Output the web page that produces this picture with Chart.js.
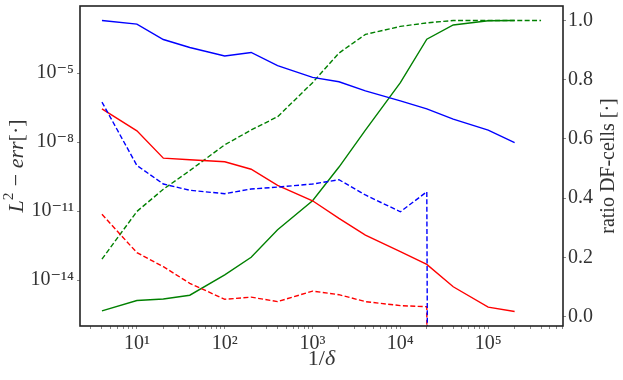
<!DOCTYPE html>
<html>
<head>
<meta charset="utf-8">
<script src="https://cdn.jsdelivr.net/npm/chart.js"></script>
<style>
  html, body { margin: 0; padding: 0; background: #fff; }
  canvas { display: block; }
</style>
</head>
<body>
<canvas id="myChart" width="623" height="380"></canvas>
<script>
const ctx = document.getElementById('myChart');

// 1/delta values (x axis)
const invDelta = [4, 10, 20, 40, 100, 200, 400, 1e3, 2e3, 4e3, 1e4, 2e4, 4e4, 1e5, 2e5, 4e5];

// L2 errors (left axis), 0 = no value (clipped on the log axis)
const errBlue = [1.95e-3, 1.35e-3, 2.9e-4, 1.3e-4, 5.6e-5, 7.9e-5, 2.1e-5, 6.5e-6, 4.2e-6, 1.7e-6, 6.2e-7, 2.8e-7, 1.0e-7, 3.3e-8, 9.5e-9];
const errRed = [2.8e-7, 3.1e-8, 2.0e-9, 1.7e-9, 1.4e-9, 6.6e-10, 1.3e-10, 2.8e-11, 4.8e-12, 9e-13, 1.7e-13, 4.8e-14, 5.1e-15, 6.6e-16, 4.3e-16];
const errBlueDash = [5.5e-7, 9.6e-10, 1.5e-10, 8e-11, 5.7e-11, 9.1e-11, 1.1e-10, 1.5e-10, 2.3e-10, 5e-11, 9.3e-12, 6.9e-11, 0, 0, 0];
const errRedDash = [7.2e-12, 1.55e-13, 3.8e-14, 7.2e-15, 1.45e-15, 1.8e-15, 1.15e-15, 3.3e-15, 2.3e-15, 1.15e-15, 7.7e-16, 6.9e-16, 0, 0, 0];

// ratio of DF cells (right axis)
const ratioSolid = [0.019, 0.054, 0.059, 0.072, 0.141, 0.20, 0.293, 0.391, 0.505, 0.63, 0.79, 0.937, 0.985, 0.999, 1.0];
const ratioDash = [0.194, 0.355, 0.43, 0.493, 0.58, 0.63, 0.675, 0.79, 0.89, 0.953, 0.98, 0.992, 1.0, 1.0, 1.0, 1.0];

// tick values
const xTicks = [1e1, 1e2, 1e3, 1e4, 1e5];
const yTicks = [1e-14, 1e-11, 1e-8, 1e-5];
const y2Ticks = [0, 0.2, 0.4, 0.6, 0.8, 1.0];

const serif = '"Liberation Serif", "DejaVu Serif", serif';
const supMap = {'-': '\u207B', '0': '\u2070', '1': '\u00B9', '2': '\u00B2', '3': '\u00B3',
  '4': '\u2074', '5': '\u2075', '6': '\u2076', '7': '\u2077', '8': '\u2078', '9': '\u2079'};
const pow10 = v => '10' + String(Math.round(Math.log10(v))).split('').map(c => supMap[c]).join('');

// a zero on a log axis is pushed far below, like matplotlib's clipping
const clip = v => (v <= 0 ? 1e-300 : v);
const pts = (ys, f) => ys.map((y, i) => ({x: invDelta[i], y: f ? f(y) : y}));

function line(label, data, color, dashed, axis) {
  return {
    label: label,
    data: data,
    yAxisID: axis,
    borderColor: color,
    borderWidth: 1.4,
    borderDash: dashed ? [5, 2.4] : [],
    pointRadius: 0,
    tension: 0,
    fill: false
  };
}

const tickFont = {family: serif, size: 20};

// frame round the plot and the rich-text axis titles
const extras = {
  id: 'extras',
  afterDraw(chart) {
    const c = chart.ctx;
    const a = chart.chartArea;
    c.save();
    c.strokeStyle = '#222';
    c.lineWidth = 1.6;
    c.strokeRect(a.left, a.top, a.right - a.left, a.bottom - a.top);
    c.restore();

    drawRich(c, [{t: 'L', it: 1}, {t: '2', sup: 1}, {t: ' \u2212 '}, {t: 'err', it: 1}, {t: '[\u00B7]'}],
      17, (a.top + a.bottom) / 2, -Math.PI / 2, 22);
    drawRich(c, [{t: 'ratio DF-cells [\u00B7]'}], 609, (a.top + a.bottom) / 2, -Math.PI / 2, 20);
    drawRich(c, [{t: '1/'}, {t: '\u03B4', it: 1}], (a.left + a.right) / 2, 359, 0, 22);
  }
};

function drawRich(c, parts, x, y, rot, size) {
  c.save();
  c.translate(x, y);
  c.rotate(rot);
  c.fillStyle = '#333';
  c.textBaseline = 'middle';
  const fontOf = p => (p.it ? 'italic ' : '') + (p.sup ? size * 0.7 : size) + 'px ' + serif;
  let w = 0;
  parts.forEach(p => { c.font = fontOf(p); w += c.measureText(p.t).width + (p.sup ? 1 : 0); });
  let cx = -w / 2;
  parts.forEach(p => {
    c.font = fontOf(p);
    c.fillText(p.t, cx, p.sup ? -size * 0.35 : 0);
    cx += c.measureText(p.t).width + (p.sup ? 1 : 0);
  });
  c.restore();
}

// keep the plot box where the reference has it
function noPad(s) {
  s.paddingTop = 0;
  s.paddingBottom = 0;
  s.paddingLeft = 0;
  s.paddingRight = 0;
}

new Chart(ctx, {
  type: 'line',
  data: {
    datasets: [
      line('err blue', pts(errBlue), '#0000ff', false, 'y'),
      line('err blue DF', pts(errBlueDash, clip), '#0000ff', true, 'y'),
      line('err red', pts(errRed), '#ff0000', false, 'y'),
      line('err red DF', pts(errRedDash, clip), '#ff0000', true, 'y'),
      line('ratio', pts(ratioSolid), '#008000', false, 'y1'),
      line('ratio DF', pts(ratioDash), '#008000', true, 'y1')
    ]
  },
  options: {
    responsive: false,
    animation: false,
    events: [],
    layout: {padding: {top: 6, left: 0, right: 0, bottom: 0}},
    plugins: {legend: {display: false}, tooltip: {enabled: false}},
    scales: {
      x: {
        type: 'logarithmic',
        position: 'bottom',
        min: Math.pow(10, 0.352),
        max: Math.pow(10, 5.852),
        afterBuildTicks(s) {
          const t = [];
          for (let e = 0; e <= 5; e++) {
            for (let m = 1; m <= 9; m++) {
              const v = m * Math.pow(10, e);
              if (v >= s.min && v <= s.max) t.push({value: v, major: xTicks.includes(v)});
            }
          }
          s.ticks = t;
        },
        afterFit(s) { s.height = 54; noPad(s); },
        ticks: {
          autoSkip: false,
          maxRotation: 0,
          padding: 3,
          color: '#333',
          font: tickFont,
          callback: v => (xTicks.includes(v) ? pow10(v) : '')
        },
        grid: {drawOnChartArea: false, tickLength: 3, tickColor: '#888'},
        border: {display: false}
      },
      y: {
        type: 'logarithmic',
        position: 'left',
        min: 1e-16,
        max: Math.pow(10, -2.08),
        afterBuildTicks(s) { s.ticks = yTicks.map(v => ({value: v})); },
        afterFit(s) { s.width = 80; noPad(s); },
        ticks: {
          autoSkip: false,
          padding: 3,
          color: '#333',
          font: tickFont,
          callback: v => pow10(v)
        },
        grid: {drawOnChartArea: false, tickLength: 3, tickColor: '#888'},
        border: {display: false}
      },
      y1: {
        type: 'linear',
        position: 'right',
        min: -0.032,
        max: 1.049,
        afterBuildTicks(s) { s.ticks = y2Ticks.map(v => ({value: v})); },
        afterFit(s) { s.width = 60; noPad(s); },
        ticks: {
          autoSkip: false,
          padding: 2,
          color: '#333',
          font: tickFont,
          callback: v => v.toFixed(1)
        },
        grid: {drawOnChartArea: false, tickLength: 3, tickColor: '#888'},
        border: {display: false}
      }
    }
  },
  plugins: [extras]
});
</script>
</body>
</html>
